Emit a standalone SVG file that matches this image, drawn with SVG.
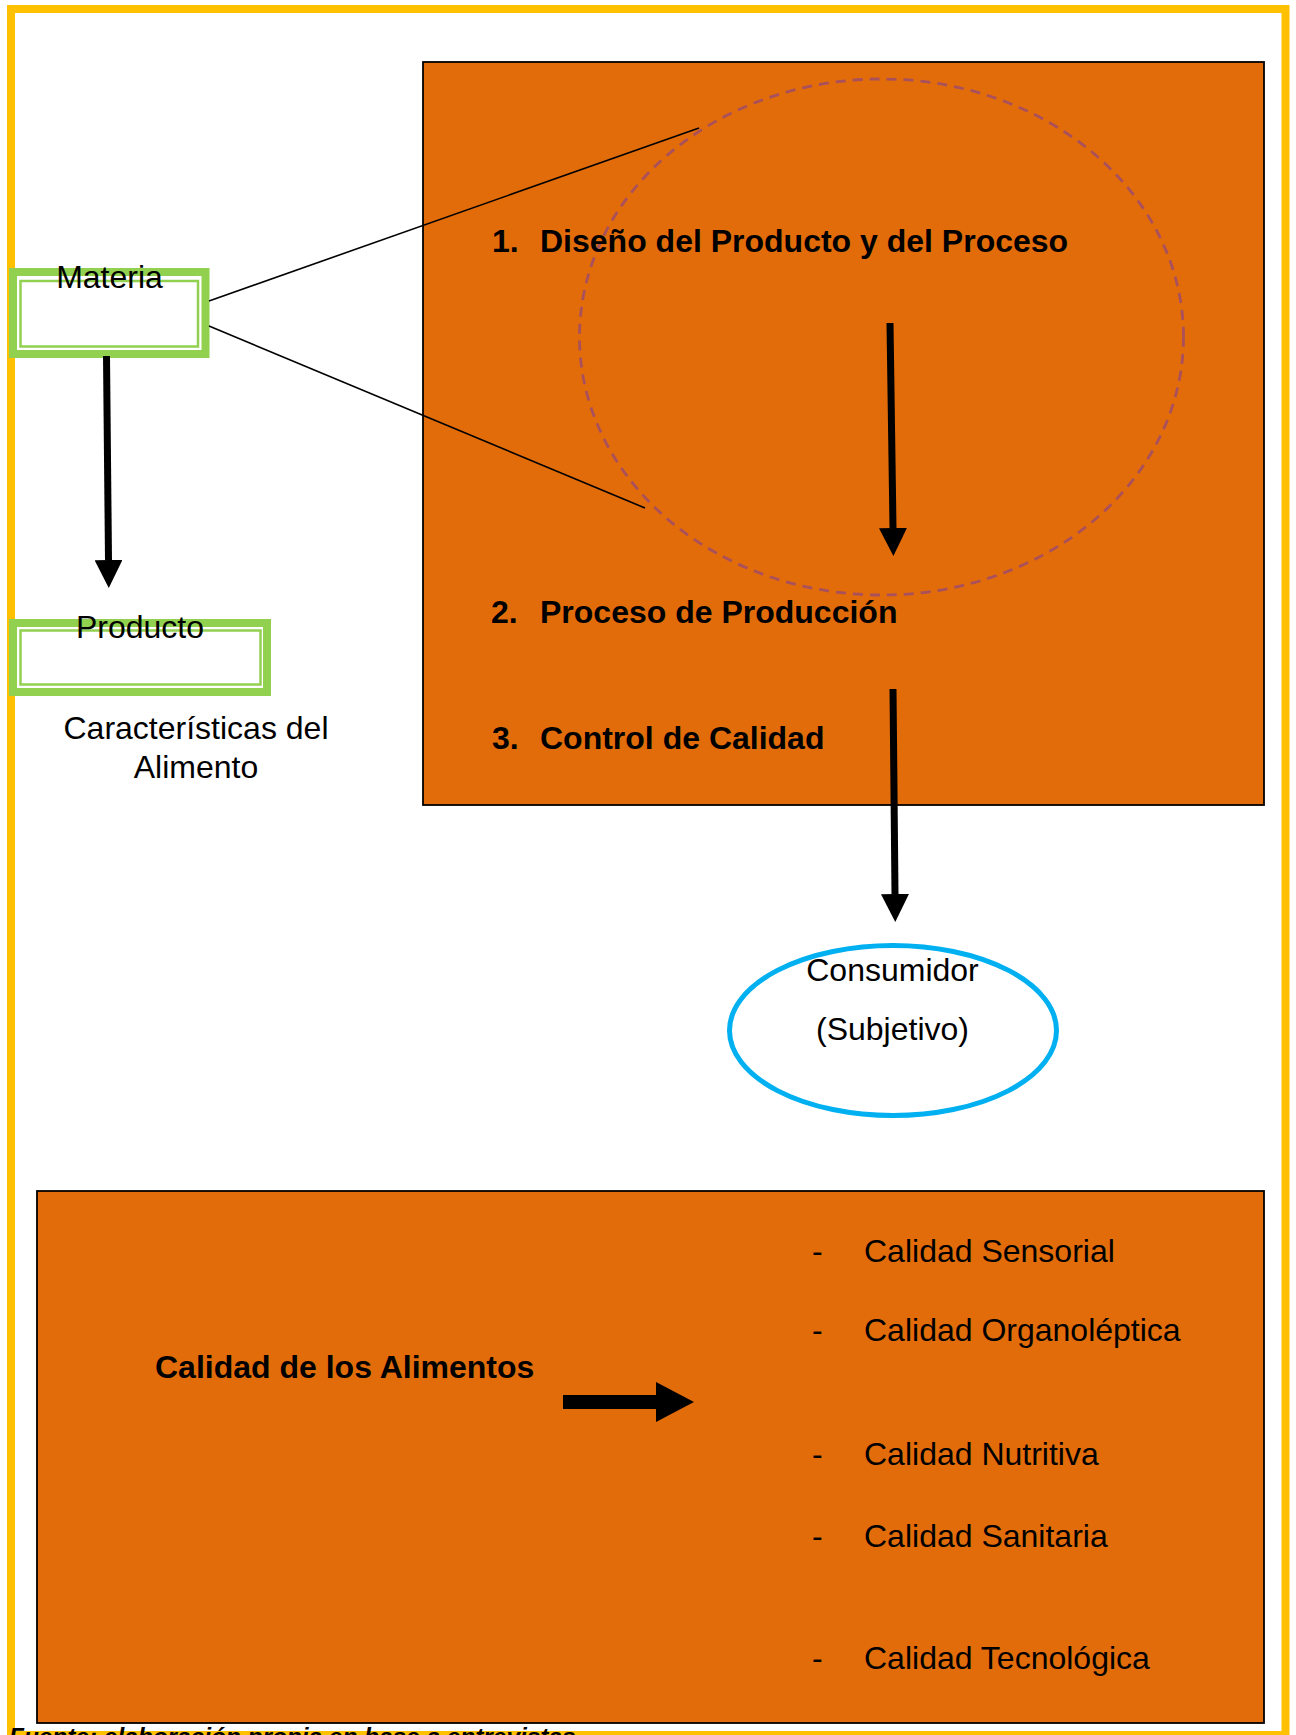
<svg xmlns="http://www.w3.org/2000/svg" width="1296" height="1735" viewBox="0 0 1296 1735">
<style>
.t{font-family:"Liberation Sans",Arial,sans-serif;font-size:32px;fill:#000}
.b{font-weight:bold}
.src{font-family:"Liberation Sans",Arial,sans-serif;font-size:24.4px;font-weight:bold;font-style:italic;fill:#000}
.panel{fill:#E36C0A;stroke:#000;stroke-width:1.8}
.gOuter{fill:#fff;stroke:#92D050;stroke-width:8}
.gInner{fill:none;stroke:#92D050;stroke-width:2.5}
.thin{stroke:#000;stroke-width:1.6;fill:none}
.shaft{stroke:#000;stroke-width:7;fill:none}
</style>
<defs>
<marker id="ah" markerUnits="userSpaceOnUse" markerWidth="28" markerHeight="28" refX="0" refY="14" orient="auto" viewBox="0 0 28 28">
<path d="M0,0 L28,14 L0,28 Z" fill="#000"/>
</marker>
</defs>
<rect width="1296" height="1735" fill="#fff"/>
<rect id="frame" x="11" y="9" width="1274.5" height="1726" fill="none" stroke="#FFC000" stroke-width="8"/>

<g id="proceso">
<rect class="panel" x="423" y="62" width="841" height="743"/>
<ellipse cx="881.5" cy="337" rx="302" ry="258" fill="none" stroke="#A8505C" stroke-width="2.8" stroke-dasharray="10,7"/>
<text class="t b" x="492" y="252">1.</text>
<text class="t b" x="540" y="252">Diseño del Producto y del Proceso</text>
<text class="t b" x="491" y="623">2.</text>
<text class="t b" x="540" y="623">Proceso de Producción</text>
<text class="t b" x="492" y="749">3.</text>
<text class="t b" x="540" y="749">Control de Calidad</text>
</g>

<g id="materia">
<rect class="gOuter" x="13" y="272" width="192.5" height="82"/>
<rect class="gInner" x="20.5" y="281" width="177.5" height="65.5"/>
<text class="t" x="109.5" y="288" text-anchor="middle">Materia</text>
</g>

<g id="producto">
<rect class="gOuter" x="13" y="623" width="254" height="69"/>
<rect class="gInner" x="20.5" y="630.5" width="240" height="54"/>
<text class="t" x="140" y="638" text-anchor="middle">Producto</text>
</g>

<g id="caracteristicas">
<text class="t" x="196" y="739" text-anchor="middle">Características del</text>
<text class="t" x="196" y="778" text-anchor="middle">Alimento</text>
</g>

<g id="consumidor">
<ellipse cx="893" cy="1030.5" rx="163.5" ry="85" fill="#fff" stroke="#00B0F0" stroke-width="5"/>
<text class="t" x="892.5" y="981" text-anchor="middle">Consumidor</text>
<text class="t" x="892.5" y="1040" text-anchor="middle">(Subjetivo)</text>
</g>

<g id="calidad">
<rect class="panel" x="37" y="1191" width="1227" height="532" stroke-width="2.5"/>
<text class="t b" x="155" y="1378">Calidad de los Alimentos</text>
<polygon points="563,1395 656,1395 656,1382 694,1402 656,1422 656,1409 563,1409" fill="#000"/>
<text class="t" x="812" y="1262">-</text>
<text class="t" x="864" y="1262">Calidad Sensorial</text>
<text class="t" x="812" y="1341">-</text>
<text class="t" x="864" y="1341">Calidad Organoléptica</text>
<text class="t" x="812" y="1465">-</text>
<text class="t" x="864" y="1465">Calidad Nutritiva</text>
<text class="t" x="812" y="1547">-</text>
<text class="t" x="864" y="1547">Calidad Sanitaria</text>
<text class="t" x="812" y="1669">-</text>
<text class="t" x="864" y="1669">Calidad Tecnológica</text>
</g>

<g id="connectors">
<line class="thin" x1="209" y1="301" x2="699" y2="128"/>
<line class="thin" x1="209" y1="326" x2="645" y2="508"/>
<line class="shaft" x1="106.5" y1="356" x2="108.5" y2="560" marker-end="url(#ah)"/>
<line class="shaft" x1="890" y1="323" x2="893" y2="528" marker-end="url(#ah)"/>
<line class="shaft" x1="893" y1="689" x2="895" y2="894" marker-end="url(#ah)"/>
</g>

<text class="src" x="9" y="1745">Fuente: elaboración propia en base a  entrevistas</text>
</svg>
